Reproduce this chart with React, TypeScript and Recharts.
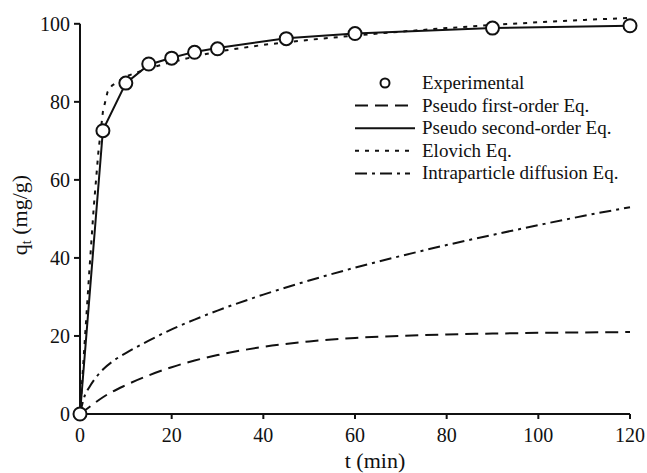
import React from 'react';
import {
    ComposedChart,
    Line,
    Scatter,
    XAxis,
    YAxis,
    ReferenceLine,
    Customized,
    Label,
} from 'recharts';

// experimental points
const expT = [0, 5, 10, 15, 20, 25, 30, 45, 60, 90, 120];
const expQ = [0, 72.6, 84.8, 89.7, 91.2, 92.7, 93.6, 96.2, 97.5, 98.9, 99.5];

// pseudo second-order fit (goes through the points)
const pso2T = [0, 5, 10, 15, 20, 25, 30, 45, 60, 90, 120];
const pso2Q = [0, 72.8, 84.8, 89.5, 91.3, 92.8, 93.8, 96.3, 97.5, 98.9, 99.5];

// pseudo first-order fit
const pso1T = [0, 2.5, 5, 10, 15, 20, 25, 30, 40, 50, 60, 70, 80, 90, 100, 110, 120];
const pso1Q = [0, 2.2, 4.3, 7.4, 9.9, 12.0, 13.7, 15.1, 17.2, 18.6, 19.5, 20.0, 20.4, 20.6, 20.8, 20.9, 21.0];

// Elovich fit
const eloT = [0, 1, 2, 3, 4, 5, 6, 7, 10, 15, 20, 25, 30, 40, 50, 60, 70, 80, 90, 100, 110, 120];
const eloQ = [0, 18, 36, 53, 67, 77.5, 82.5, 84.2, 86.5, 88.6, 90.2, 91.6, 92.9, 94.6, 95.9, 97.0, 98.0, 98.9, 99.7, 100.4, 101.0, 101.5];

// intraparticle diffusion fit
const ipdT = [0, 1, 2, 3, 5, 7.5, 10, 15, 20, 25, 30, 40, 50, 60, 70, 80, 90, 100, 110, 120];
const ipdQ = [0, 4.6, 6.8, 8.6, 11.4, 13.8, 15.6, 18.8, 21.7, 24.2, 26.5, 30.6, 34.2, 37.5, 40.5, 43.3, 45.9, 48.4, 50.8, 53.0];

const xTicks = [0, 20, 40, 60, 80, 100, 120];
const yTicks = [0, 20, 40, 60, 80, 100];

const legendLabels = [
    'Experimental',
    'Pseudo first-order Eq.',
    'Pseudo second-order Eq.',
    'Elovich Eq.',
    'Intraparticle diffusion Eq.',
];

const zip = (ts: number[], qs: number[]) => ts.map((t, i) => ({ t, q: qs[i] }));

const expData = zip(expT, expQ);
const pso2Data = zip(pso2T, pso2Q);
const pso1Data = zip(pso1T, pso1Q);
const eloData = zip(eloT, eloQ);
const ipdData = zip(ipdT, ipdQ);

const FONT = "'Liberation Serif', 'Times New Roman', serif";
const INK = '#111';

const dashes = ['', '13 7', '', '4 6', '12 5 3 5'];

const Circle = (props: any) => {
    const { cx, cy } = props;
    return <circle cx={cx} cy={cy} r={6.5} fill="#fff" stroke={INK} strokeWidth={2} />;
};

const LegendBox = () => {
    const x0 = 355;
    const y0 = 83;
    const step = 22.6;
    return (
        <g>
            {legendLabels.map((name, i) => {
                const y = y0 + i * step;
                return (
                    <g key={name}>
                        {i === 0 ? (
                            <circle cx={385} cy={y} r={4.5} fill="#fff" stroke={INK} strokeWidth={2} />
                        ) : (
                            <line
                                x1={x0}
                                x2={i === 2 ? 415 : 410}
                                y1={y}
                                y2={y}
                                stroke={INK}
                                strokeWidth={2}
                                strokeDasharray={dashes[i] || undefined}
                            />
                        )}
                        <text x={422} y={y + 6} style={{ fontFamily: FONT }} fontSize={19} fill={INK}>
                            {name}
                        </text>
                    </g>
                );
            })}
        </g>
    );
};

const XTitle = (props: any) => {
    const { viewBox } = props;
    return (
        <text
            x={viewBox.x + viewBox.width / 2 + 20}
            y={viewBox.y + 54}
            textAnchor="middle"
            style={{ fontFamily: FONT }}
            fontSize={22}
            fill={INK}
        >
            t (min)
        </text>
    );
};

const YTitle = () => {
    const cx = 27;
    const cy = 215;
    return (
        <text
            x={cx}
            y={cy}
            transform={`rotate(-90, ${cx}, ${cy})`}
            textAnchor="middle"
            style={{ fontFamily: FONT }}
            fontSize={22}
            fill={INK}
        >
            q
            <tspan fontSize={14} dy={4}>t</tspan>
            <tspan dy={-4}> (mg/g)</tspan>
        </text>
    );
};

const tickStyle = { fontFamily: FONT, fontSize: 20, fill: INK };

const App: React.FC = () => {
    return (
        <div style={{ position: 'absolute', left: 0, top: 0, width: 647, height: 473, background: '#fff', fontFamily: FONT }}>
            <ComposedChart
                width={647}
                height={473}
                margin={{ top: 16, right: 17, left: 0, bottom: 0 }}
                style={{ fontFamily: FONT }}
            >
                <XAxis
                    dataKey="t"
                    type="number"
                    domain={[0, 120]}
                    ticks={xTicks}
                    allowDecimals={false}
                    height={59}
                    stroke={INK}
                    strokeWidth={2}
                    tickSize={5}
                    tickMargin={9}
                    tick={{ ...tickStyle, style: { fontFamily: FONT } }}
                >
                    <Label content={<XTitle />} />
                </XAxis>
                <YAxis
                    dataKey="q"
                    type="number"
                    domain={[0, 102]}
                    ticks={yTicks}
                    width={80}
                    axisLine={false}
                    stroke={INK}
                    tickLine={{ stroke: INK, strokeWidth: 2 }}
                    tickSize={6}
                    tickMargin={4}
                    tick={{ ...tickStyle, style: { fontFamily: FONT } }}
                />
                <ReferenceLine
                    segment={[{ x: 0, y: 0 }, { x: 0, y: 100 }]}
                    stroke={INK}
                    strokeWidth={2}
                    ifOverflow="visible"
                />
                <Line data={pso1Data} dataKey="q" type="monotone" stroke={INK} strokeWidth={2} strokeDasharray="13 7" dot={false} isAnimationActive={false} />
                <Line data={ipdData} dataKey="q" type="monotone" stroke={INK} strokeWidth={2} strokeDasharray="12 5 3 5" dot={false} isAnimationActive={false} />
                <Line data={eloData} dataKey="q" type="linear" stroke={INK} strokeWidth={2} strokeDasharray="4 6" dot={false} isAnimationActive={false} />
                <Line data={pso2Data} dataKey="q" type="linear" stroke={INK} strokeWidth={2} dot={false} isAnimationActive={false} />
                <Scatter data={expData} dataKey="q" shape={<Circle />} isAnimationActive={false} />
                <Customized component={YTitle} />
                <Customized component={LegendBox} />
            </ComposedChart>
        </div>
    );
};

export default App;
